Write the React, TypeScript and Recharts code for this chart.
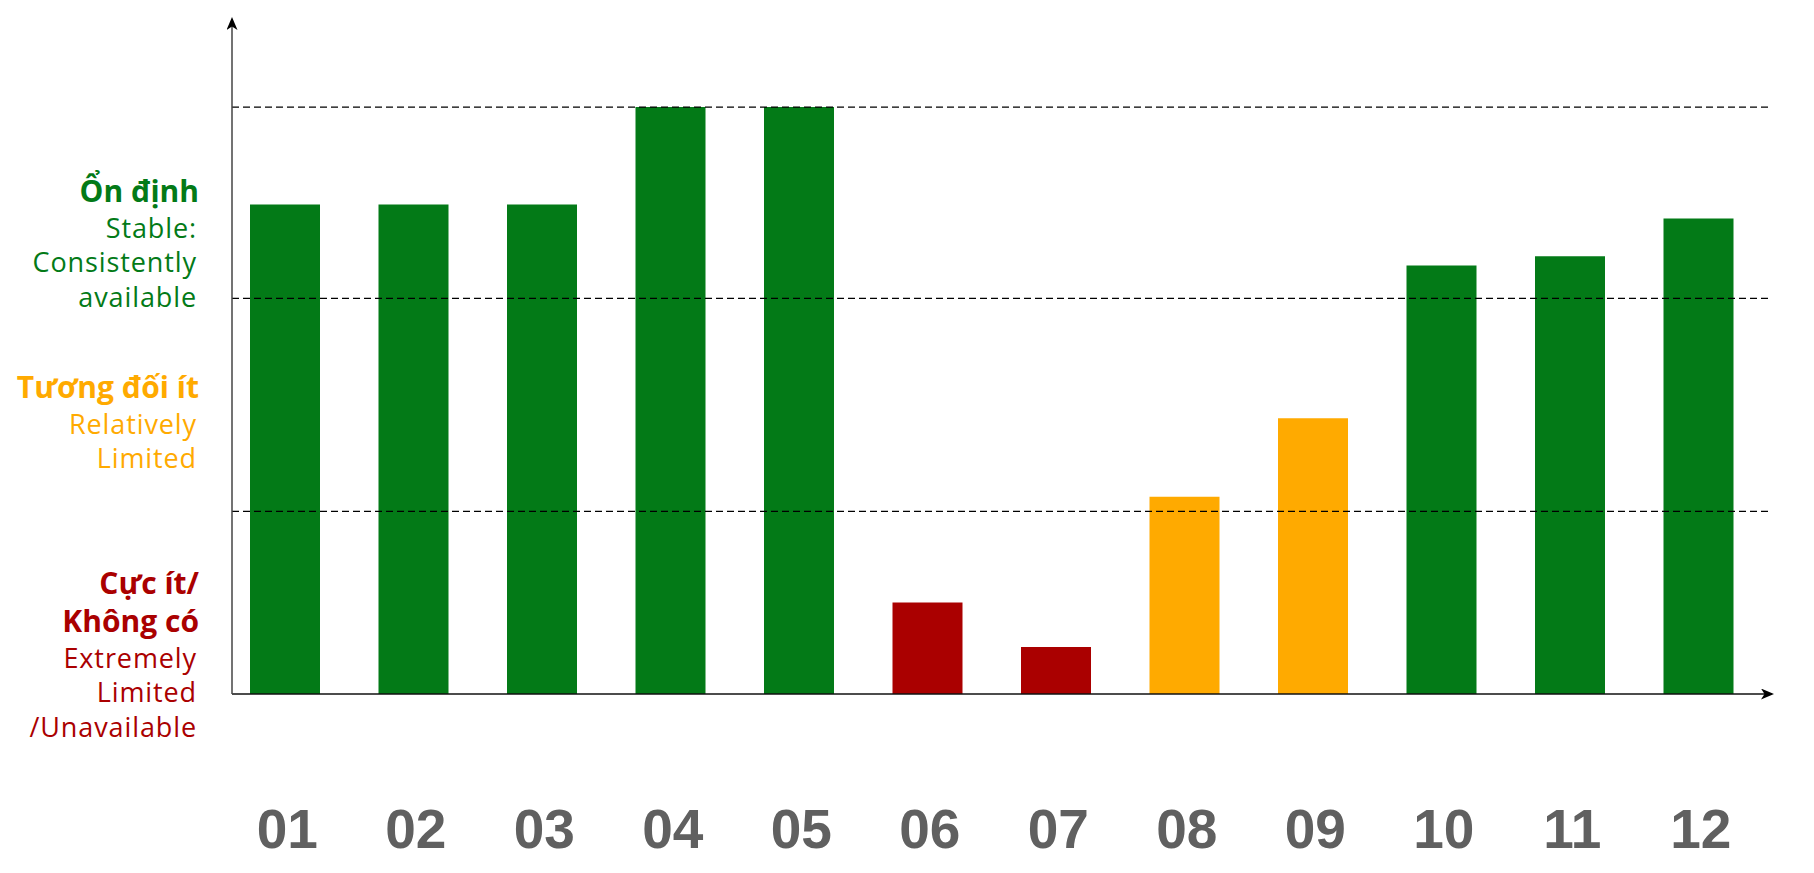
import React from "react";
import { BarChart, Bar, XAxis, YAxis, ReferenceLine, Cell } from "recharts";

// months on the x axis
const months = ["01", "02", "03", "04", "05", "06", "07", "08", "09", "10", "11", "12"];
// relative availability
const availability = [83.4, 83.4, 83.4, 100, 100, 15.6, 8, 33.6, 47, 73, 74.6, 81];
// 0 = stable, 1 = relatively limited, 2 = extremely limited
const monthLevel = [0, 0, 0, 0, 0, 2, 2, 1, 1, 0, 0, 0];

// dashed guide lines
const thresholds = [100, 67.4, 31.1];

// y positions of the level labels (first line baseline)
const levelTicks = [83.9, 50.5, 17];
const levelTitles = [["Ổn định"], ["Tương đối ít"], ["Cực ít/", "Không có"]];
const levelNotes = [
  ["Stable:", "Consistently", "available"],
  ["Relatively", "Limited"],
  ["Extremely", "Limited", "/Unavailable"],
];
const levelColors = ["#037A17", "#FFAA00", "#AA0000"];

const data = months.map((m, i) => ({ month: m, value: availability[i] }));

function XTick(props: any) {
  const { x, y, payload } = props;
  return (
    <text
      x={x + 2}
      y={y + 154}
      textAnchor="middle"
      fill="#606060"
      fontFamily="'Liberation Sans', Arial, sans-serif"
      fontWeight={700}
      fontSize={55}
    >
      {payload.value}
    </text>
  );
}

function YTick(props: any) {
  const { x, y, payload } = props;
  const k = levelTicks.indexOf(payload.value);
  if (k < 0) return null;
  const color = levelColors[k];
  const lines: { text: string; bold: boolean; dy: number }[] = [];
  let dy = 0;
  levelTitles[k].forEach((t, i) => {
    if (i > 0) dy += 37.5;
    lines.push({ text: t, bold: true, dy });
  });
  levelNotes[k].forEach((t, i) => {
    dy += i === 0 ? 36 : 34.5;
    lines.push({ text: t, bold: false, dy });
  });
  return (
    <g>
      {lines.map((l, i) => (
        <text
          key={i}
          x={l.bold ? x - 33 : x - 35}
          y={y + l.dy}
          textAnchor="end"
          fill={color}
          fontFamily="'Open Sans', 'Noto Sans', sans-serif"
          fontWeight={l.bold ? 700 : 400}
          fontSize={l.bold ? 30 : 27}
          letterSpacing={l.bold ? 0 : 0.9}
        >
          {l.text}
        </text>
      ))}
    </g>
  );
}

export default function App() {
  return (
    <div style={{ position: "relative", width: 1814, height: 873 }}>
      <style>{"body{margin:0}"}</style>
      <svg width={0} height={0} style={{ position: "absolute" }}>
        <defs>
          <marker
            id="arrowHead"
            markerUnits="userSpaceOnUse"
            markerWidth={14}
            markerHeight={12}
            refX={11}
            refY={5.5}
            orient="auto-start-reverse"
          >
            <path d="M0,0 L13,5.5 L0,11 L3.5,5.5 Z" fill="#000" />
          </marker>
        </defs>
      </svg>
      <BarChart
        width={1814}
        height={873}
        data={data}
        margin={{ top: 19, right: 42, bottom: 29, left: 32 }}
      >
        <XAxis
          dataKey="month"
          height={150}
          padding={{ left: -11, right: 9 }}
          tickLine={false}
          tickSize={0}
          tickMargin={0}
          interval={0}
          tick={<XTick />}
          axisLine={{ stroke: "#111", strokeWidth: 1.5, markerEnd: "url(#arrowHead)" }}
        />
        <YAxis
          type="number"
          domain={[0, 115]}
          width={200}
          ticks={levelTicks}
          interval={0}
          tickLine={false}
          tickSize={0}
          tickMargin={0}
          tick={<YTick />}
          axisLine={{ stroke: "#444", strokeWidth: 1.5, markerStart: "url(#arrowHead)" }}
        />
        {thresholds.map((t) => (
          <ReferenceLine
            key={t}
            y={t}
            stroke="#000"
            strokeWidth={1.2}
            strokeDasharray="7 4"
          />
        ))}
        <Bar dataKey="value" barSize={70} isAnimationActive={false}>
          {data.map((d, i) => (
            <Cell key={d.month} fill={levelColors[monthLevel[i]]} />
          ))}
        </Bar>
      </BarChart>
    </div>
  );
}
